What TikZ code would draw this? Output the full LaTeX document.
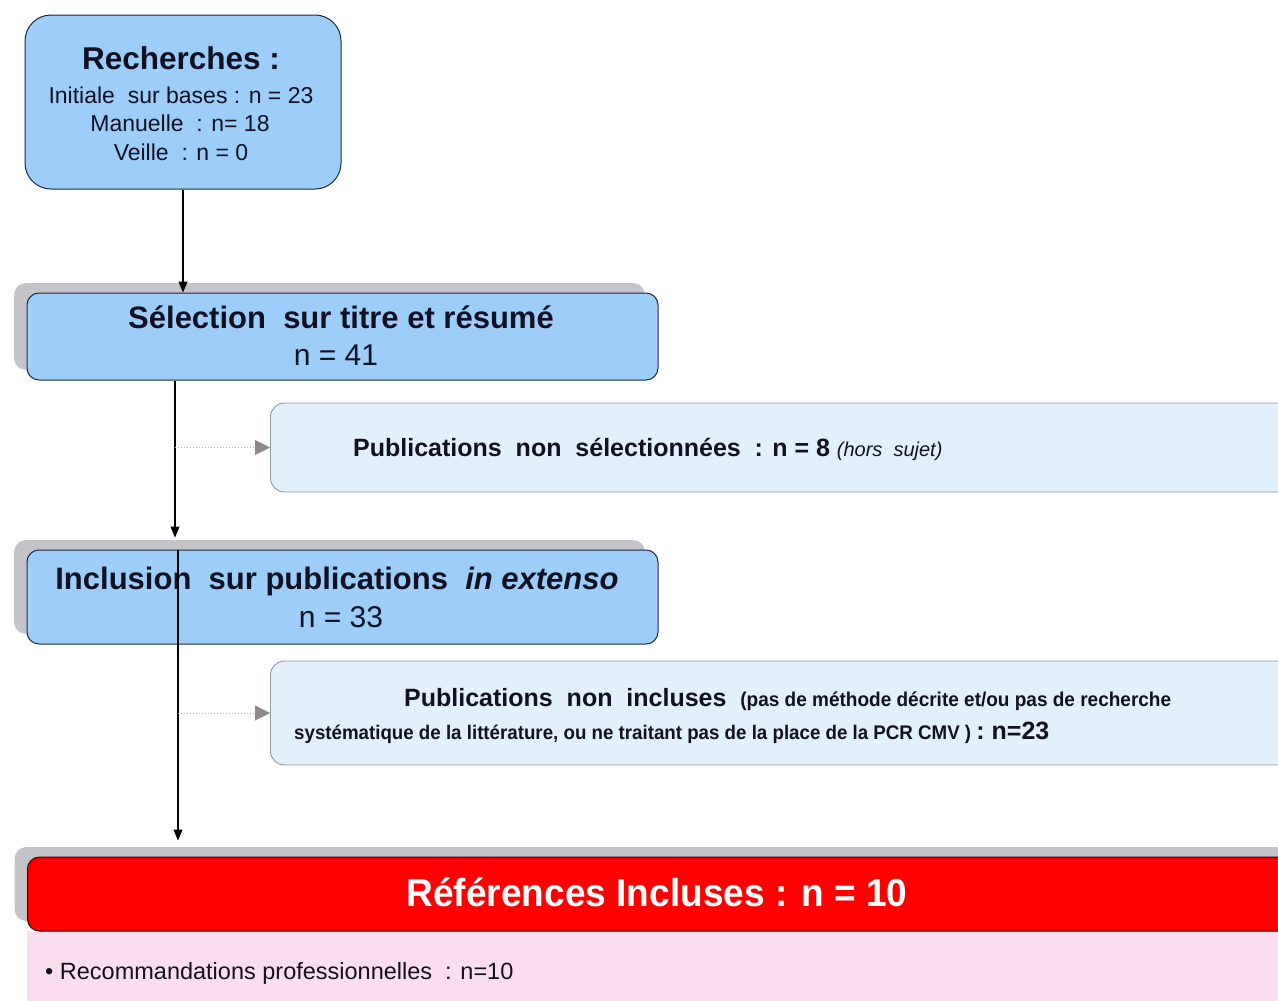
\documentclass[tikz,border=0pt]{standalone}
\usepackage{fontspec}
\setmainfont{Liberation Sans}
\newfontfamily\narrowf[FakeStretch=0.95]{Liberation Sans}
\usetikzlibrary{arrows.meta,shadows,calc}
\definecolor{boxblue}{HTML}{9DCDF9}
\definecolor{navy}{HTML}{1E2A44}
\definecolor{paleblue}{HTML}{E2F0FC}
\definecolor{palegray}{HTML}{8C98A4}
\definecolor{shadowgray}{HTML}{C4C4C8}
\definecolor{hdrred}{HTML}{FF0000}
\definecolor{hdrborder}{HTML}{3A0000}
\definecolor{pinkbg}{HTML}{FBDDF0}
\definecolor{dotgray}{HTML}{B4B4B4}
\definecolor{tipgray}{HTML}{8A8A8A}
\definecolor{txt}{HTML}{111122}
\begin{document}
\begin{tikzpicture}[x=1pt,y=-1pt,
  bluebox/.style={draw=navy, line width=1pt, fill=boxblue, rounded corners=12pt, inner sep=0pt},
  shadowed/.style={general shadow={fill=shadowgray, shadow xshift=-13pt, shadow yshift=10pt}},
  palebox/.style={draw=palegray, line width=0.9pt, fill=paleblue, rounded corners=14pt, inner sep=0pt},
  lbl/.style={anchor=base, inner sep=0pt, text=txt},
  lblw/.style={anchor=base west, inner sep=0pt, text=txt},
  mainarrow/.style={draw=black, line width=1.2pt, -{Triangle[length=11pt,width=9pt]}},
  sidearrow/.style={draw=dotgray, line width=1pt, dotted, -{Triangle[length=15pt,width=15pt,color=tipgray]}}
]
\useasboundingbox[fill=white] (0,0) rectangle (1278,1001);

% --- boxes ---
\node[bluebox, rounded corners=26pt, minimum width=316pt, minimum height=174pt] (rech) at (183,102) {};
\node[bluebox, shadowed, minimum width=631pt, minimum height=87pt] (sel) at (342.5,336.5) {};
\node[palebox, minimum width=1030pt, minimum height=89pt, anchor=west] (nonsel) at (270,447.5) {};
\node[bluebox, shadowed, minimum width=631pt, minimum height=94pt] (incl) at (342.5,597) {};
\node[palebox, minimum width=1030pt, minimum height=104pt, anchor=west] (nonincl) at (270,713) {};
\fill[pinkbg] (27,931) rectangle (1300,1010);
\node[draw=hdrborder, line width=1pt, fill=hdrred, rounded corners=12pt, shadowed, minimum width=1273pt, minimum height=74pt, anchor=west, inner sep=0pt] (refs) at (27,894) {};

% --- texts ---
\node[lbl, font=\fontsize{31.5}{36}\selectfont\bfseries] (t1) at (181,69) {Recherches :};
\node[lbl, font=\fontsize{23}{28}\selectfont] (t2) at (181,103) {Initiale\ \ sur bases : n = 23};
\node[lbl, font=\fontsize{23}{28}\selectfont] (t3) at (180,131) {Manuelle\ \ : n=\ 18};
\node[lbl, font=\fontsize{23}{28}\selectfont] (t4) at (181,160) {Veille\ \ : n = 0};

\node[lbl, font=\fontsize{31}{36}\selectfont\bfseries] (t5) at (341,328) {Sélection\ \ sur titre et résumé};
\node[lbl, font=\fontsize{30}{36}\selectfont] (t6) at (336,365) {n = 41};

\node[lblw, font=\fontsize{25}{30}\selectfont\bfseries] (t7) at (353,456)
  {Publications\ \ non\ \ sélectionnées\ \ : n = 8 {\fontsize{20}{22}\selectfont\mdseries\itshape (hors\ \ sujet)}};

\node[lbl, font=\fontsize{31}{36}\selectfont\bfseries] (t8) at (337,589) {Inclusion\ \ sur publications\ \ \textit{in extenso}};
\node[lbl, font=\fontsize{30}{36}\selectfont] (t9) at (341,627) {n = 33};

\node[lblw, font=\fontsize{25}{30}\selectfont\bfseries] (t10) at (404,706)
  {Publications\ \ non\ \ incluses\ \ {\narrowf\fontsize{20}{24}\selectfont\bfseries (pas de méthode décrite et/ou pas de recherche}};
\node[lblw, font=\narrowf\fontsize{19.7}{24}\selectfont\bfseries] (t11) at (294,739)
  {systématique de la littérature, ou ne traitant pas de la place de la PCR CMV ) {\rmfamily\bfseries\fontsize{25}{30}\selectfont: n=23}};

\node[lbl, text=white, font=\narrowf\fontsize{39}{44}\selectfont\bfseries] (t12) at (657,906) {Références Incluses : n = 10};
\node[lblw, font=\fontsize{23.5}{28}\selectfont] (t13) at (45,979) {\textbullet\ Recommandations professionnelles\ \ : n=10};

% --- connectors ---
\coordinate (xa) at (175,0);
\coordinate (xb) at (178,0);
\draw[mainarrow] (rech.south) -- (rech.south |- sel.north);
\draw[mainarrow] (xa |- sel.south) -- ($(xa |- incl.north)+(0,-12)$);
\draw[sidearrow] (xa |- nonsel.west) -- (nonsel.west);
\draw[mainarrow] (xb |- incl.north) -- ($(xb |- refs.north)+(0,-16)$);
\draw[sidearrow] (xb |- nonincl.west) -- (nonincl.west);
\end{tikzpicture}
\end{document}
